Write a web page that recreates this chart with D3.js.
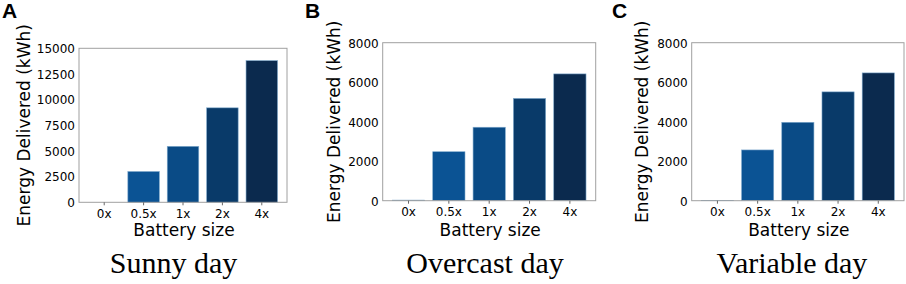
<!DOCTYPE html>
<html>
<head>
<meta charset="utf-8">
<script src="https://cdn.jsdelivr.net/npm/d3@7"></script>
<style>
  body { margin: 0; background: #fff; }
  .tick text { font-family: "DejaVu Sans", sans-serif; font-size: 12px; fill: #000; }
  .lab { font-family: "DejaVu Sans", sans-serif; font-size: 17px; fill: #000; }
  .title { font-family: "Liberation Serif", "Times New Roman", serif; font-size: 30px; fill: #000; }
  .letter { font-family: "Liberation Sans", Arial, sans-serif; font-size: 21px; font-weight: bold; fill: #000; }
</style>
</head>
<body>
<div id="viz"></div>
<script>
// battery sizes on x, energy delivered (kWh) per panel
const sizes   = ["0x", "0.5x", "1x", "2x", "4x"];
const sunny    = [0, 3000, 5450, 9200, 13800];
const overcast = [30, 2480, 3720, 5180, 6420];
const variable = [20, 2570, 3970, 5510, 6470];

const titles  = ["Sunny day", "Overcast day", "Variable day"];
const letters = ["A", "B", "C"];
const yMax    = [15000, 8000, 8000];
const yTicks  = [[0, 2500, 5000, 7500, 10000, 12500, 15000], [0, 2000, 4000, 6000, 8000], [0, 2000, 4000, 6000, 8000]];
const colors  = ["#0b5898", "#0b5394", "#0a4b86", "#093a69", "#0b2a4e"];

// frame boxes per panel (left, right, top, bottom), label positions
const BOX = [
  {L: 79,    R: 287,   T: 48.3, B: 202.3, YL: 29.5, TX: 173.5, LX: 2},
  {L: 382.7, R: 595.7, T: 42.7, B: 200.7, YL: 340,  TX: 485,   LX: 305},
  {L: 691.7, R: 904,   T: 42.7, B: 200.7, YL: 648,  TX: 792,   LX: 612}
];
const series = [sunny, overcast, variable];

const svg = d3.select("#viz").append("svg")
  .attr("width", 906).attr("height", 284);

series.forEach((vals, i) => {
  const b = BOX[i];
  const g = svg.append("g");

  const x = d3.scaleBand().domain(sizes).range([b.L, b.R])
    .paddingInner(0.2).paddingOuter(0.24);
  const y = d3.scaleLinear().domain([0, yMax[i]]).range([b.B, b.T]);

  g.selectAll("rect.bar")
    .data(vals)
    .enter().append("rect")
      .attr("class", "bar")
      .attr("x", (d, j) => x(sizes[j]))
      .attr("width", x.bandwidth())
      .attr("y", d => y(d))
      .attr("height", d => b.B - y(d))
      .style("fill", (d, j) => colors[j])
      .style("stroke", "#7fa9cc")
      .style("stroke-width", 0.6);

  // frame
  g.append("rect")
    .attr("x", b.L).attr("y", b.T)
    .attr("width", b.R - b.L).attr("height", b.B - b.T)
    .style("fill", "none").style("stroke", "#a0a0a0").style("stroke-width", 1);

  const xa = g.append("g")
    .attr("transform", `translate(0,${b.B})`)
    .call(d3.axisBottom(x).tickSize(3).tickPadding(4));
  xa.select(".domain").remove();
  xa.selectAll(".tick line").style("stroke", "#666");

  const ya = g.append("g")
    .attr("transform", `translate(${b.L},0)`)
    .call(d3.axisLeft(y).tickValues(yTicks[i]).tickSize(0).tickPadding(4).tickFormat(d3.format("d")));
  ya.select(".domain").remove();
  ya.selectAll(".tick text").attr("dy", "0.36em");

  g.append("text").attr("class", "lab")
    .attr("x", (b.L + b.R) / 2 + 1).attr("y", 236)
    .attr("text-anchor", "middle").text("Battery size");

  g.append("text").attr("class", "lab")
    .attr("transform", `translate(${b.YL},${(b.T + b.B) / 2}) rotate(-90)`)
    .attr("text-anchor", "middle").text("Energy Delivered (kWh)");

  g.append("text").attr("class", "title")
    .attr("x", b.TX).attr("y", 273)
    .attr("text-anchor", "middle").text(titles[i]);

  g.append("text").attr("class", "letter")
    .attr("x", b.LX).attr("y", 18).text(letters[i]);
});
</script>
</body>
</html>
